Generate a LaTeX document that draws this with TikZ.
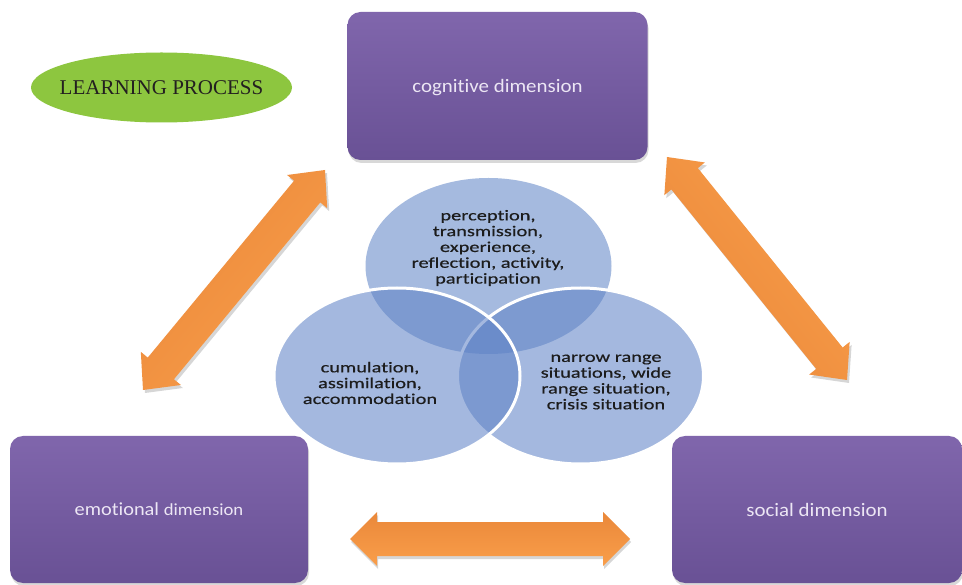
\documentclass[tikz,border=0pt]{standalone}
\usepackage{fontspec}
\setmainfont{Liberation Serif}
\newfontfamily\boxfont[FakeStretch=1.1, Ligatures=NoCommon]{Carlito}
\newfontfamily\circfont[FakeStretch=1.36, FakeBold=0.5, Ligatures=NoCommon]{Carlito}
\usetikzlibrary{calc,shadows,shapes.geometric}
\definecolor{boxtop}{RGB}{128,102,172}
\definecolor{boxbot}{RGB}{105,81,149}
\definecolor{boxtext}{RGB}{236,230,244}
\definecolor{leafgreen}{RGB}{141,198,63}
\definecolor{lptext}{RGB}{35,31,32}
\definecolor{circlight}{RGB}{165,186,223}
\definecolor{circbase}{RGB}{94,130,198}
\definecolor{circtext}{RGB}{28,28,28}
\definecolor{arrdark}{RGB}{234,136,58}
\definecolor{arrlight}{RGB}{249,158,74}
\tikzset{
  dimbox/.style={draw=none, rounded corners=13pt, top color=boxtop, bottom color=boxbot,
    text=boxtext, font=\boxfont\fontsize{19}{22}\selectfont, text depth=0pt, inner sep=0pt,
    drop shadow={opacity=0.3, shadow xshift=1pt, shadow yshift=-3pt}},
  venn/.style={ellipse, minimum width=246pt, minimum height=176pt, inner sep=0pt},
  outer/.style={venn, fill=circbase, fill opacity=0.56, draw=white, line width=3pt},
  venntext/.style={align=center, text=circtext, inner sep=0pt,
    font=\circfont\fontsize{15}{15.8}\selectfont},
  arrowshadow/.style={fill=black, fill opacity=0.16},
  arrowbody/.style={top color=arrdark, bottom color=arrlight},
}
% #1 tip A, #2 tip B, #3 head half width, #4 shaft half width, #5 head length, #6 style
\newcommand{\ornarrow}[6]{%
  \coordinate (#1h) at ($(#1)!#5!(#2)$);
  \coordinate (#2h) at ($(#2)!#5!(#1)$);
  \path[#6] (#1) -- ($(#1h)!#3!90:(#2)$) -- ($(#1h)!#4!90:(#2)$)
    -- ($(#2h)!#4!-90:(#1)$) -- ($(#2h)!#3!-90:(#1)$) -- (#2)
    -- ($(#2h)!#3!90:(#1)$) -- ($(#2h)!#4!90:(#1)$)
    -- ($(#1h)!#4!-90:(#2)$) -- ($(#1h)!#3!-90:(#2)$) -- cycle;
}
\begin{document}
\begin{tikzpicture}[x=1pt, y=-1pt]
\useasboundingbox (0,0) rectangle (962,585);
\fill[white] (0,0) rectangle (962,585);

% title ellipse
\node[ellipse, fill=leafgreen, minimum width=261pt, minimum height=70pt, inner sep=0pt]
  (lp) at (161.5,87.5) {};
\node[text=lptext, font=\fontsize{21}{24}\selectfont, inner sep=0pt] (lptxt) at (lp.center)
  {LEARNING PROCESS};

% arrow end points
\coordinate (la) at (143,390);
\coordinate (lb) at (325,170);
\coordinate (ra) at (667,157);
\coordinate (rb) at (847,380);
\coordinate (ha) at (350,539);
\coordinate (hb) at (630,539);
\coordinate (las) at (145,393);
\coordinate (lbs) at (327,173);
\coordinate (ras) at (669,160);
\coordinate (rbs) at (849,383);
\coordinate (has) at (351,542);
\coordinate (hbs) at (631,542);

% arrow shadows
\ornarrow{las}{lbs}{26pt}{17pt}{28pt}{arrowshadow}
\ornarrow{ras}{rbs}{26pt}{17pt}{28pt}{arrowshadow}
\ornarrow{has}{hbs}{27pt}{17pt}{27pt}{arrowshadow}
% arrows
\ornarrow{la}{lb}{26pt}{17pt}{28pt}{arrowbody, shading angle=50}
\ornarrow{ra}{rb}{26pt}{17pt}{28pt}{arrowbody, shading angle=129}
\ornarrow{ha}{hb}{27pt}{17pt}{27pt}{arrowbody}

% Venn diagram
\node[venn, fill=circlight] (ctop) at (488.5,266) {};
\node[outer] (cright) at (580.5,376) {};
\node[outer] (cleft) at (397,376) {};

\node[venntext] (ttop) at (488,248)
  {perception,\\transmission,\\experience,\\reflection, activity,\\participation};
\node[venntext] (tleft) at (370,383)
  {cumulation,\\assimilation,\\accommodation};
\node[venntext] (tright) at (606,382)
  {narrow range\\situations, wide\\range situation,\\crisis situation};

% dimension boxes
\node[dimbox, minimum width=300pt, minimum height=148pt] (cog) at (497.5,86)
  {cognitive dimension};
\node[dimbox, minimum width=298pt, minimum height=147pt] (emo) at (159,509.5)
  {{\fontsize{18.5}{22}\selectfont emotional} {\fontsize{17}{22}\selectfont dimension}};
\node[dimbox, minimum width=290pt, minimum height=147pt] (soc) at (817,509.5)
  {social dimension};
\end{tikzpicture}
\end{document}
